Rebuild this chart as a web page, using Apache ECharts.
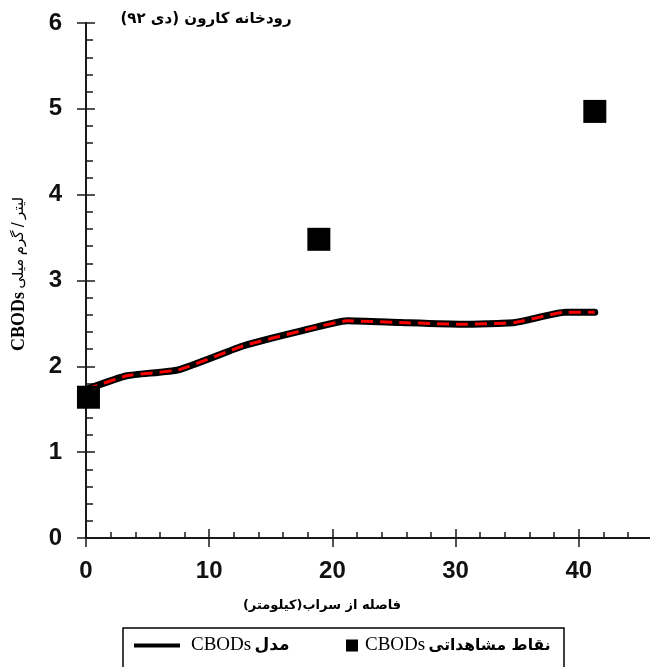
<!DOCTYPE html>
<html><head><meta charset="utf-8">
<script src="https://cdn.jsdelivr.net/npm/echarts@6/dist/echarts.min.js"></script>
<style>html,body{margin:0;padding:0;background:#fff}#c{width:650px;height:667px}</style>
</head><body><div id="c"></div>
<script>
// ---- data ----
const titleText = 'رودخانه کارون (دی ۹۲)';
const xAxisTitle = 'فاصله از سراب(کیلومتر)';
const yLabelWords = ['CBODs', 'میلی', 'گرم', '/', 'لیتر'];
const xTickLabels = [0, 10, 20, 30, 40];
const yTickLabels = [0, 1, 2, 3, 4, 5, 6];
const modelDist = [0, 3.3, 7.5, 12.8, 17.4, 21.2, 25.5, 30.5, 34.8, 38.9, 41.3];
const modelCBOD = [1.73, 1.89, 1.96, 2.24, 2.41, 2.53, 2.51, 2.49, 2.51, 2.63, 2.63];
const obsDist = [0.2, 18.9, 41.3];
const obsCBOD = [1.64, 3.48, 4.97];
const legendModel = ['CBODs', 'مدل'];
const legendObs = ['CBODs', 'نقاط مشاهداتی'];

const modelData = modelDist.map((d, i) => [d, modelCBOD[i]]);
const obsData = obsDist.map((d, i) => [d, obsCBOD[i]]);

const AX = '#1a1a1a';
const numFont = "'Liberation Sans Narrow','Liberation Sans',Arial,sans-serif";
const faFont = "'DejaVu Sans','Noto Sans',sans-serif";
const RLE = '\u202B', PDF = '\u202C';

const chart = echarts.init(document.getElementById('c'), null, {renderer: 'canvas'});

const baseX = {type: 'value', min: 0, max: 50, interval: 10, position: 'bottom',
  axisLine: {show: true, onZero: false, lineStyle: {color: AX, width: 2}}, splitLine: {show: false}};
const baseY = {type: 'value', min: 0, max: 6, interval: 1, position: 'left',
  axisLine: {show: true, onZero: false, lineStyle: {color: AX, width: 2}}, splitLine: {show: false}};

chart.setOption({
  animation: false,
  backgroundColor: '#fff',
  grid: {left: 86, top: 23, width: 616, height: 515, containLabel: false, outerBoundsMode: 'none'},
  xAxis: [
    Object.assign({}, baseX, {
      axisTick: {show: true, inside: true, length: 9, lineStyle: {color: AX, width: 1.5}},
      minorTick: {show: true, splitNumber: 5, length: 6, lineStyle: {color: AX, width: 1.5}},
      axisLabel: {show: true, margin: 21, fontFamily: numFont, fontWeight: 'bold', fontSize: 24, color: '#111',
        formatter: v => xTickLabels.includes(v) ? String(v) : ''}
    }),
    Object.assign({}, baseX, {
      axisTick: {show: true, inside: false, length: 9, lineStyle: {color: AX, width: 1.5}},
      axisLabel: {show: false}
    })
  ],
  yAxis: [
    Object.assign({}, baseY, {
      axisTick: {show: true, inside: true, length: 9, lineStyle: {color: AX, width: 1.5}},
      minorTick: {show: true, splitNumber: 5, length: 7, lineStyle: {color: AX, width: 1.5}},
      axisLabel: {show: true, margin: 24, fontFamily: numFont, fontWeight: 'bold', fontSize: 24, color: '#111',
        formatter: v => yTickLabels.includes(v) ? String(v) : ''}
    }),
    Object.assign({}, baseY, {
      axisTick: {show: true, inside: false, length: 9, lineStyle: {color: AX, width: 1.5}},
      axisLabel: {show: false}
    })
  ],
  legend: [
    {data: ['model'], left: 134, top: 636, icon: 'rect', itemWidth: 46, itemHeight: 4,
      padding: 0, formatter: () => '{s|' + legendModel[0] + '} {p|' + legendModel[1] + '}',
      textStyle: {rich: {
        s: {fontFamily: "'Liberation Serif',serif", fontSize: 19, color: '#000', padding: [0, 0, 0, 6]},
        p: {fontFamily: faFont, fontWeight: 'bold', fontSize: 17, color: '#000'}}}},
    {data: ['obs'], left: 346, top: 636, icon: 'rect', itemWidth: 12, itemHeight: 12,
      padding: 0, formatter: () => '{s|' + legendObs[0] + '} {p|' + legendObs[1] + '}',
      textStyle: {rich: {
        s: {fontFamily: "'Liberation Serif',serif", fontSize: 19, color: '#000', padding: [0, 0, 0, 2]},
        p: {fontFamily: faFont, fontWeight: 'bold', fontSize: 15.5, color: '#000'}}}}
  ],
  graphic: [
    {type: 'rect', shape: {x: 123, y: 628, width: 441, height: 60}, style: {fill: 'none', stroke: '#000', lineWidth: 1.5}, z: 1},
    {type: 'text', x: 206, y: 19, style: {text: RLE + titleText + PDF, font: "bold 15px 'DejaVu Sans'", fill: '#000', align: 'center', verticalAlign: 'middle'}},
    {type: 'text', x: 322, y: 606, style: {text: RLE + xAxisTitle + PDF, font: "bold 13px 'DejaVu Sans'", fill: '#000', align: 'center', verticalAlign: 'middle'}},
    {type: 'text', x: 19, y: 274, rotation: Math.PI / 2,
      style: {text: '{s|' + yLabelWords[0] + '} {p|' + yLabelWords[1] + '} {p|' + yLabelWords[2] + '} {p|' + yLabelWords[3] + '} {p|' + yLabelWords[4] + '}',
        align: 'center', verticalAlign: 'middle', fill: '#000',
        rich: {s: {fontFamily: "'Liberation Serif',serif", fontWeight: 'bold', fontSize: 18, fill: '#000'},
               p: {fontFamily: faFont, fontSize: 15, fill: '#000'}}}}
  ],
  series: [
    {name: 'model', type: 'line', data: modelData, showSymbol: false, smooth: 0.15, color: '#000',
      lineStyle: {color: '#000', width: 7, cap: 'round', join: 'round'}, z: 2},
    {name: 'modelDash', type: 'line', data: modelData, showSymbol: false, smooth: 0.15, color: '#ff0000',
      lineStyle: {color: '#ff0000', width: 3, type: [12, 7]}, z: 3},
    {name: 'obs', type: 'scatter', data: obsData, symbol: 'rect', symbolSize: 23, color: '#000',
      itemStyle: {color: '#000', opacity: 1}, z: 4}
  ]
});
</script></body></html>
